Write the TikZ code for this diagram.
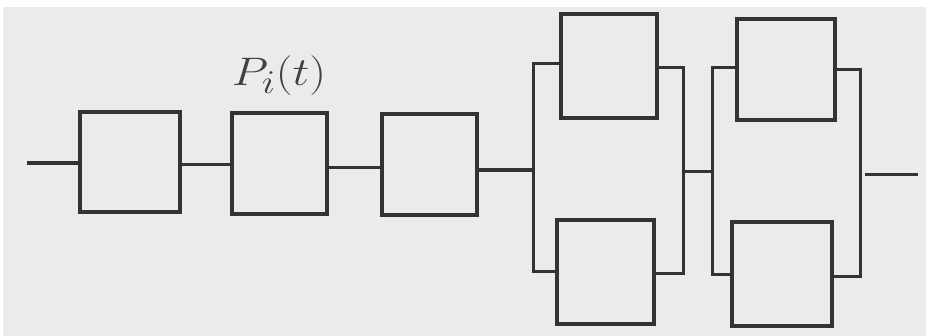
\documentclass[tikz,border=0pt]{standalone}
\usepackage{graphicx}
\begin{document}
\begin{tikzpicture}[x=1pt,y=-1pt,
  blk/.style={draw=black!80,line width=4.5pt,fill=black!8,minimum width=#1,inner sep=0pt,outer sep=0pt},
  wire/.style={draw=black!80,line width=3pt}]
\useasboundingbox (0,0) rectangle (928,336);
\fill[white] (0,0) rectangle (928,336);
\fill[black!8] (3,7) rectangle (926,336);
% series boxes
\node[blk=100pt,minimum height=100pt] (b1) at (130,162) {};
\node[blk=95pt,minimum height=101pt] (b2) at (279.5,163.5) {};
\node[blk=95pt,minimum height=101pt] (b3) at (429.5,164.5) {};
% parallel block 1
\node[blk=96pt,minimum height=104pt] (p1) at (609,66) {};
\node[blk=97pt,minimum height=104pt] (p2) at (605.5,272) {};
% parallel block 2
\node[blk=98pt,minimum height=101pt] (q1) at (786,69.5) {};
\node[blk=100pt,minimum height=104pt] (q2) at (782,274) {};
% label
\node[text=black!75,inner sep=0pt] (lab) at (279,76) {\scalebox{1.9}[1.6]{\Huge $P_i(t)$}};
% bus coordinates
\coordinate (in) at (27,163);
\coordinate (l1t) at (533,64);
\coordinate (l1b) at (533,272);
\coordinate (l1m) at (533,170);
\coordinate (r1t) at (683,68);
\coordinate (r1b) at (683,274);
\coordinate (r1m) at (683,172);
\coordinate (l2t) at (712,68);
\coordinate (l2b) at (712,275);
\coordinate (l2m) at (712,172);
\coordinate (r2t) at (860,70);
\coordinate (r2b) at (860,277);
\coordinate (o0) at (865,175);
\coordinate (out) at (918,175);
% wires
\draw[wire,line width=4pt] (in) -- (b1.west |- in);
\draw[wire] (b1.east |- 0,165) -- (b2.west |- 0,165);
\draw[wire] (b2.east |- 0,168) -- (b3.west |- 0,168);
\draw[wire,line width=4pt] (b3.east |- l1m) -- (l1m);
\draw[wire] (p1.west |- l1t) -- (l1t) -- (l1b) -- (p2.west |- l1b);
\draw[wire] (p1.east |- r1t) -- (r1t) -- (r1b) -- (p2.east |- r1b);
\draw[wire] (r1m) -- (l2m);
\draw[wire] (q1.west |- l2t) -- (l2t) -- (l2b) -- (q2.west |- l2b);
\draw[wire] (q1.east |- r2t) -- (r2t) -- (r2b) -- (q2.east |- r2b);
\draw[wire] (o0) -- (out);
\end{tikzpicture}
\end{document}
